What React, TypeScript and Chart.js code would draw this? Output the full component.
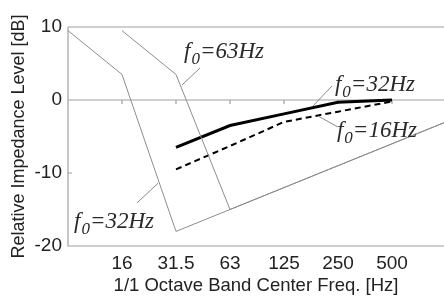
import React, { useEffect, useRef } from "react";
import { Chart, registerables } from "chart.js";

Chart.register(...registerables);

// Octave band index: 8 Hz = 0, 16 Hz = 1, ... 1000 Hz = 7
const freqLabels = ["16", "31.5", "63", "125", "250", "500"];
const freqIdx = [1, 2, 3, 4, 5, 6];
const yTicks = [-20, -10, 0, 10];

const gray32X = [0, 1, 2, 3, 4, 5, 6, 7];
const gray32Y = [9.5, 3.5, -18, -15, -12, -9, -6, -3];
const gray63X = [1, 2, 3, 4, 5, 6, 7];
const gray63Y = [9.5, 3.5, -15, -12, -9, -6, -3];
const solidX = [2, 3, 4, 5, 6];
const solidY = [-6.5, -3.5, -1.9, -0.3, 0];
const dashX = [2, 3, 4, 5, 6];
const dashY = [-9.5, -6.3, -3.0, -1.6, -0.2];

// annotations: text anchor (x, y) and pointer line (x1,y1)->(x2,y2), data units
const annText = ["63Hz", "32Hz", "16Hz", "32Hz"];
const annTx = [2.148, 4.944, 4.981, 0.111];
const annTy = [5.75, 1.23, -5.07, -17.53];
const annL1x = [2.444, 4.889, 5.0, 1.278];
const annL1y = [4.38, 1.92, -3.7, -14.1];
const annL2x = [2.111, 4.537, 4.63, 1.667];
const annL2y = [2.05, -0.82, -2.19, -11.4];

const pts = (xs: number[], ys: number[]) => xs.map((x, i) => ({ x, y: ys[i] }));

const framePlugin = {
  id: "frame",
  beforeDatasetsDraw(chart: any) {
    const { ctx, chartArea: a, scales } = chart;
    const xs = scales.x;
    const ys = scales.y;
    ctx.save();
    ctx.strokeStyle = "#a0a0a0";
    ctx.lineWidth = 1.2;
    ctx.beginPath();
    ctx.moveTo(a.left, a.top);
    ctx.lineTo(a.right, a.top);
    ctx.moveTo(a.left, a.top);
    ctx.lineTo(a.left, a.bottom);
    ctx.lineTo(a.right, a.bottom);
    const y0 = ys.getPixelForValue(0);
    ctx.moveTo(a.left, y0);
    ctx.lineTo(a.right, y0);
    freqIdx.forEach((v) => {
      const px = xs.getPixelForValue(v);
      ctx.moveTo(px, y0);
      ctx.lineTo(px, y0 + 4);
    });
    yTicks.forEach((v) => {
      const py = ys.getPixelForValue(v);
      ctx.moveTo(a.left, py);
      ctx.lineTo(a.left + 4, py);
    });
    ctx.stroke();
    ctx.restore();
  },
  afterDatasetsDraw(chart: any) {
    const { ctx, scales } = chart;
    const xs = scales.x;
    const ys = scales.y;
    ctx.save();
    ctx.strokeStyle = "#8a8a8a";
    ctx.lineWidth = 1;
    annText.forEach((t, i) => {
      ctx.beginPath();
      ctx.moveTo(xs.getPixelForValue(annL1x[i]), ys.getPixelForValue(annL1y[i]));
      ctx.lineTo(xs.getPixelForValue(annL2x[i]), ys.getPixelForValue(annL2y[i]));
      ctx.stroke();
      let x = xs.getPixelForValue(annTx[i]);
      const y = ys.getPixelForValue(annTy[i]);
      ctx.fillStyle = "#2a2a2a";
      ctx.textBaseline = "alphabetic";
      ctx.textAlign = "left";
      ctx.font = "italic 23px 'Liberation Serif', serif";
      ctx.fillText("f", x, y);
      x += ctx.measureText("f").width + 1;
      ctx.font = "italic 17px 'Liberation Serif', serif";
      ctx.fillText("0", x, y + 6);
      x += ctx.measureText("0").width;
      ctx.font = "italic 23px 'Liberation Serif', serif";
      ctx.fillText("=" + t, x, y);
    });
    ctx.restore();
  },
};

export default function App() {
  const ref = useRef<HTMLCanvasElement>(null);
  useEffect(() => {
    if (!ref.current) return;
    const chart = new Chart(ref.current, {
      type: "line",
      data: {
        datasets: [
          {
            data: pts(gray32X, gray32Y),
            borderColor: "#8c8c8c",
            borderWidth: 1,
            pointRadius: 0,
          },
          {
            data: pts(gray63X, gray63Y),
            borderColor: "#8c8c8c",
            borderWidth: 1,
            pointRadius: 0,
          },
          {
            data: pts(solidX, solidY),
            borderColor: "#000000",
            borderWidth: 3,
            pointRadius: 0,
          },
          {
            data: pts(dashX, dashY),
            borderColor: "#000000",
            borderWidth: 2,
            borderDash: [6, 4],
            pointRadius: 0,
          },
        ],
      },
      options: {
        animation: false,
        responsive: true,
        maintainAspectRatio: false,
        layout: { padding: { top: 27, right: 0, left: 0, bottom: 0 } },
        plugins: { legend: { display: false }, tooltip: { enabled: false } },
        scales: {
          x: {
            type: "linear",
            min: 0,
            max: 6.963,
            grid: { display: false, drawTicks: false },
            border: { display: false },
            afterBuildTicks: (s: any) => {
              s.ticks = freqIdx.map((v) => ({ value: v }));
            },
            afterFit: (s: any) => {
              s.height = 51;
            },
            ticks: {
              autoSkip: false,
              maxRotation: 0,
              padding: 6,
              color: "#222",
              font: { family: "'Liberation Sans', Arial", size: 19 },
              callback: (v: any) => {
                const i = freqIdx.indexOf(Number(v));
                return i >= 0 ? freqLabels[i] : "";
              },
            },
            title: {
              display: true,
              text: "1/1 Octave Band Center Freq. [Hz]",
              color: "#222",
              font: { family: "'Liberation Sans', Arial", size: 18.5 },
              padding: { top: 0, bottom: 0 },
            },
          },
          y: {
            min: -20,
            max: 10,
            grid: { display: false, drawTicks: false },
            border: { display: false },
            afterBuildTicks: (s: any) => {
              s.ticks = yTicks.map((v) => ({ value: v }));
            },
            afterFit: (s: any) => {
              s.width = 68;
            },
            ticks: {
              padding: 6,
              color: "#222",
              font: { family: "'Liberation Sans', Arial", size: 19 },
            },
            title: {
              display: true,
              text: "Relative Impedance Level [dB]",
              color: "#222",
              font: { family: "'Liberation Sans', Arial", size: 18 },
              padding: { top: 8, bottom: 0 },
            },
          },
        },
      },
      plugins: [framePlugin],
    } as any);
    return () => chart.destroy();
  }, []);
  return (
    <div style={{ position: "fixed", left: 0, top: 0, width: 444, height: 297, background: "#fff" }}>
      <canvas ref={ref} />
    </div>
  );
}
